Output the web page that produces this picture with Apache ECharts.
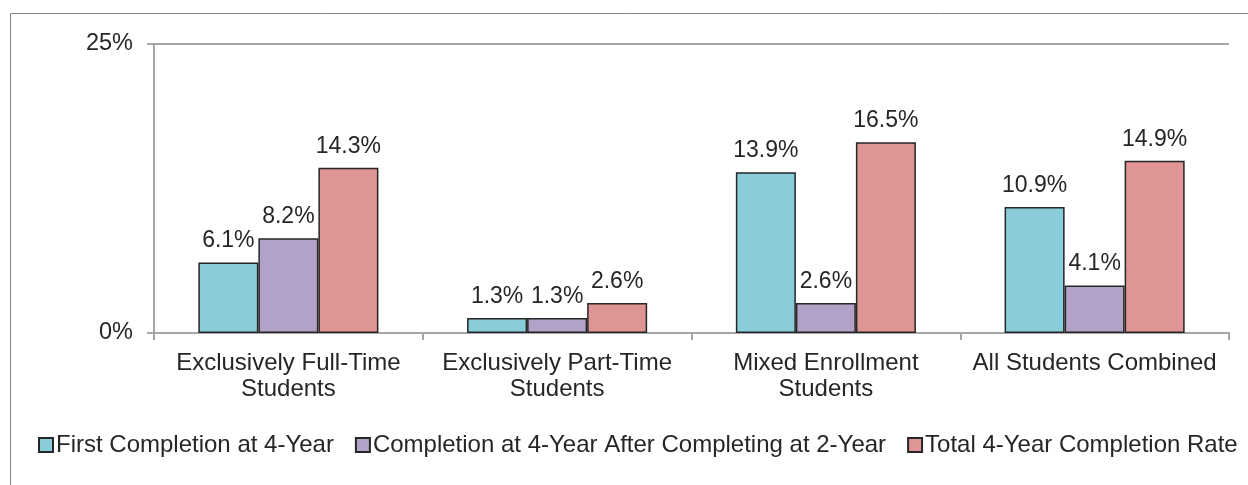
<!DOCTYPE html>
<html><head><meta charset="utf-8">
<script src="https://cdn.jsdelivr.net/npm/echarts@6/dist/echarts.min.js"></script>
<style>html,body{margin:0;padding:0;background:#fff}#c{width:1248px;height:485px}</style>
</head><body><div id="c"></div>
<script>
const categories = ["Exclusively Full-Time\nStudents", "Exclusively Part-Time\nStudents", "Mixed Enrollment\nStudents", "All Students Combined"];
const seriesNames = ["First Completion at 4-Year", "Completion at 4-Year After Completing at 2-Year", "Total 4-Year Completion Rate"];
const firstCompletion = [6.1, 1.3, 13.9, 10.9];
const afterTwoYear = [8.2, 1.3, 2.6, 4.1];
const totalRate = [14.3, 2.6, 16.5, 14.9];
const yTicks = [0, 25];
const colors = ["#8ACDDA", "#B3A2C7", "#DE9593"];

const chart = echarts.init(document.getElementById('c'), null, {renderer: 'canvas'});
const font = "'Liberation Sans', Arial, sans-serif";
const mk = (name, data, color) => ({
  name, type: 'bar', data, barGap: '0%', barCategoryGap: '33%',
  itemStyle: {color, borderColor: '#262626', borderWidth: 1.5},
  label: {show: true, position: 'top', distance: 10, formatter: p => p.value.toFixed(1) + '%',
    fontFamily: font, fontSize: 23, color: '#262626'}
});
chart.setOption({
  animation: false,
  textStyle: {fontFamily: font},
  graphic: [{type: 'rect', shape: {x: 10.5, y: 13.5, width: 1400, height: 600},
    style: {fill: 'none', stroke: '#808080', lineWidth: 1}, silent: true}],
  grid: {left: 154, right: 19, top: 44, bottom: 152, containLabel: false},
  legend: {left: 33, top: 428, itemWidth: 14, itemHeight: 14, itemGap: 21,
    icon: 'rect', data: seriesNames,
    textStyle: {fontFamily: font, fontSize: 24, color: '#262626', padding: [0, 0, 0, -2]}},
  xAxis: {type: 'category', data: categories,
    axisLine: {lineStyle: {color: '#A6A6A6', width: 2}},
    axisTick: {show: true, length: 7, interval: 0, lineStyle: {color: '#A6A6A6', width: 2}},
    axisLabel: {interval: 0, fontFamily: font, fontSize: 24, color: '#262626', lineHeight: 26, margin: 17}},
  yAxis: {type: 'value', min: 0, max: 25, interval: 25,
    axisLine: {show: true, lineStyle: {color: '#A6A6A6', width: 2}},
    axisTick: {show: true, length: 7, lineStyle: {color: '#A6A6A6', width: 2}},
    splitLine: {show: true, lineStyle: {color: '#A6A6A6', width: 2}},
    axisLabel: {fontFamily: font, fontSize: 23.5, color: '#262626', margin: 21, padding: [5, 0, 0, 0],
      formatter: v => v + '%'}},
  series: [mk(seriesNames[0], firstCompletion, colors[0]), mk(seriesNames[1], afterTwoYear, colors[1]), mk(seriesNames[2], totalRate, colors[2])]
});
</script></body></html>
